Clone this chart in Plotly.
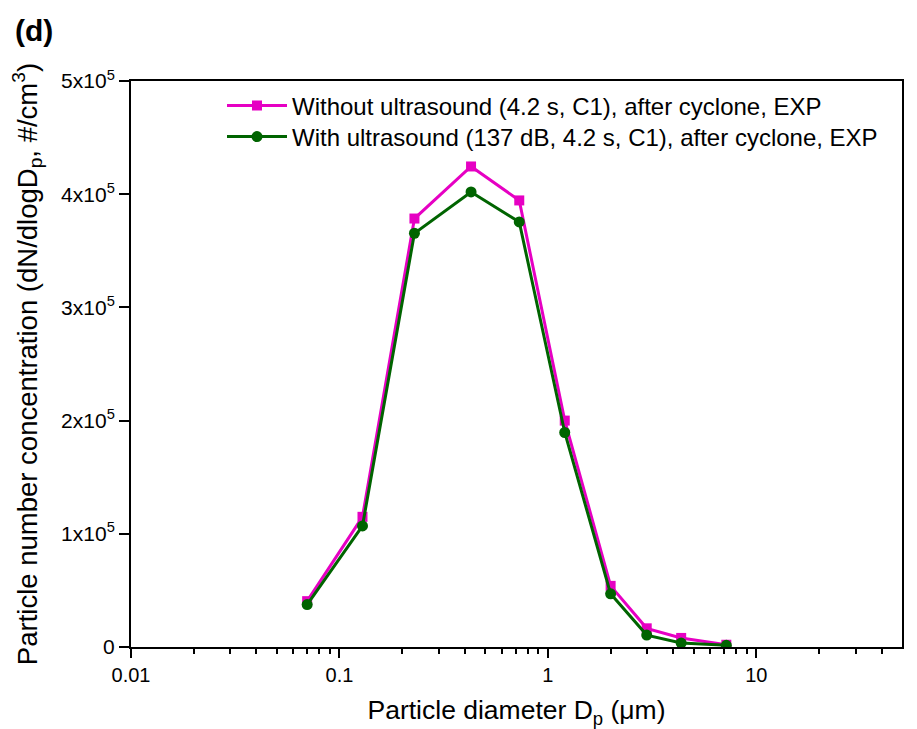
import plotly.graph_objects as go

diameter = [0.07, 0.129, 0.229, 0.428, 0.729, 1.205, 2.0, 2.98, 4.36, 7.18]
without_us = [40500, 115000, 378500, 424500, 394500, 200000, 54000, 16500, 8000, 2000]
with_us = [37500, 107000, 365500, 402000, 375500, 189500, 47000, 10500, 3500, 1500]

y_tickvals = [0, 100000, 200000, 300000, 400000, 500000]
y_ticktext = ["0", "1x10<sup>5</sup>", "2x10<sup>5</sup>", "3x10<sup>5</sup>", "4x10<sup>5</sup>", "5x10<sup>5</sup>"]
x_tickvals = [0.01, 0.1, 1, 10]
x_ticktext = ["0.01", "0.1", "1", "10"]
x_minor = [m * 10 ** e for e in (-2, -1, 0) for m in range(2, 10)] + [20, 30, 40]

fig = go.Figure()
fig.add_trace(go.Scatter(
    x=diameter, y=without_us, mode="lines+markers",
    name="Without ultrasound (4.2 s, C1), after cyclone, EXP",
    line=dict(color="#E600C3", width=3),
    marker=dict(symbol="square", size=10, color="#E600C3"),
    legend="legend",
))
fig.add_trace(go.Scatter(
    x=diameter, y=with_us, mode="lines+markers",
    name="With ultrasound (137 dB, 4.2 s, C1), after cyclone, EXP",
    line=dict(color="#006400", width=3),
    marker=dict(symbol="circle", size=11, color="#006400"),
    legend="legend2",
))

# page body has an 8px offset; compensate so the plot frame lands at
# x 131..902, y 81..647 in the window
OFF = 8
W, H = 909, 721
L, T = 131 - OFF, 81 - OFF
pw, ph = 771, 566
R = W - L - pw
B = H - T - ph

def px(x):
    return (x - OFF - L) / pw

def py(y):
    return (H - B - (y - OFF)) / ph

font_family = "Liberation Sans, Arial, sans-serif"
leg_common = dict(xanchor="left", yanchor="middle", font=dict(size=24),
                  bgcolor="rgba(0,0,0,0)", itemwidth=60)
fig.update_layout(
    width=W, height=H,
    margin=dict(l=L, r=R, t=T, b=B, autoexpand=False),
    paper_bgcolor="white", plot_bgcolor="white",
    font=dict(family=font_family, color="black", size=20),
    showlegend=True,
    legend=dict(x=px(222), y=py(106), **leg_common),
    legend2=dict(x=px(222), y=py(137), **leg_common),
    annotations=[dict(text="<b>(d)</b>", x=px(13), y=py(30),
                      xref="paper", yref="paper",
                      showarrow=False, font=dict(size=30), xanchor="left", yanchor="middle")],
)

fig.update_xaxes(
    type="log", range=[-2, 1.69897], automargin=False,
    tickvals=x_tickvals, ticktext=x_ticktext,
    ticks="outside", ticklen=9, tickwidth=1.5, tickcolor="black",
    showline=True, linewidth=2, linecolor="black", mirror=True,
    showgrid=False, zeroline=False,
    tickfont=dict(size=20),
    minor=dict(tickvals=x_minor, ticks="outside", ticklen=5, tickwidth=1.5, tickcolor="black", showgrid=False),
    title=dict(text="Particle diameter D<sub>p</sub> (\u03bcm)", font=dict(size=26.5), standoff=23),
)
fig.update_yaxes(
    range=[0, 500000], automargin=False,
    tickvals=y_tickvals, ticktext=y_ticktext,
    ticks="outside", ticklen=10, tickwidth=1.5, tickcolor="black",
    showline=True, linewidth=2, linecolor="black", mirror=True,
    showgrid=False, zeroline=False,
    tickfont=dict(size=21),
    title=dict(text="Particle number concentration (dN/dlogD<sub>p</sub>, #/cm<sup>3</sup>)",
               font=dict(size=27.5), standoff=22),
)

fig.write_html("out.html")
